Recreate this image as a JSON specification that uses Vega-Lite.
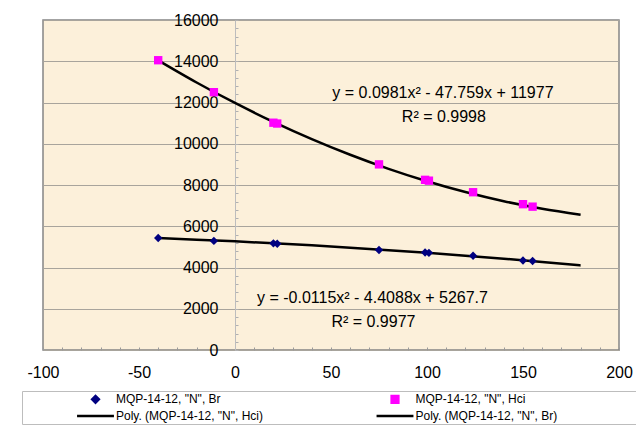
{
  "$schema": "https://vega.github.io/schema/vega-lite/v6.json",
  "width": 576,
  "height": 330,
  "autosize": {"type": "none"},
  "padding": {"left": 43, "top": 20, "right": 17, "bottom": 77},
  "background": "white",
  "config": {
    "view": {"fill": "#FCF0DA", "stroke": "#858585", "strokeWidth": 1.5},
    "font": "Liberation Sans"
  },
  "datasets": {
    "curves": [
      {"series": "Poly. (MQP-14-12, \"N\", Hci)", "x": -40, "y": 14044},
      {"series": "Poly. (MQP-14-12, \"N\", Hci)", "x": -20, "y": 12971},
      {"series": "Poly. (MQP-14-12, \"N\", Hci)", "x": 0, "y": 11977},
      {"series": "Poly. (MQP-14-12, \"N\", Hci)", "x": 20, "y": 11061},
      {"series": "Poly. (MQP-14-12, \"N\", Hci)", "x": 40, "y": 10224},
      {"series": "Poly. (MQP-14-12, \"N\", Hci)", "x": 60, "y": 9465},
      {"series": "Poly. (MQP-14-12, \"N\", Hci)", "x": 80, "y": 8784},
      {"series": "Poly. (MQP-14-12, \"N\", Hci)", "x": 100, "y": 8182},
      {"series": "Poly. (MQP-14-12, \"N\", Hci)", "x": 120, "y": 7659},
      {"series": "Poly. (MQP-14-12, \"N\", Hci)", "x": 140, "y": 7213},
      {"series": "Poly. (MQP-14-12, \"N\", Hci)", "x": 160, "y": 6847},
      {"series": "Poly. (MQP-14-12, \"N\", Hci)", "x": 180, "y": 6559},
      {"series": "Poly. (MQP-14-12, \"N\", Br)", "x": -40, "y": 5426},
      {"series": "Poly. (MQP-14-12, \"N\", Br)", "x": -20, "y": 5351},
      {"series": "Poly. (MQP-14-12, \"N\", Br)", "x": 0, "y": 5268},
      {"series": "Poly. (MQP-14-12, \"N\", Br)", "x": 20, "y": 5175},
      {"series": "Poly. (MQP-14-12, \"N\", Br)", "x": 40, "y": 5073},
      {"series": "Poly. (MQP-14-12, \"N\", Br)", "x": 60, "y": 4962},
      {"series": "Poly. (MQP-14-12, \"N\", Br)", "x": 80, "y": 4841},
      {"series": "Poly. (MQP-14-12, \"N\", Br)", "x": 100, "y": 4712},
      {"series": "Poly. (MQP-14-12, \"N\", Br)", "x": 120, "y": 4573},
      {"series": "Poly. (MQP-14-12, \"N\", Br)", "x": 140, "y": 4425},
      {"series": "Poly. (MQP-14-12, \"N\", Br)", "x": 160, "y": 4268},
      {"series": "Poly. (MQP-14-12, \"N\", Br)", "x": 180, "y": 4102}
    ],
    "points": [
      {"series": "MQP-14-12, \"N\", Hci", "x": -40, "y": 14050},
      {"series": "MQP-14-12, \"N\", Hci", "x": -11, "y": 12500},
      {"series": "MQP-14-12, \"N\", Hci", "x": 20, "y": 11020},
      {"series": "MQP-14-12, \"N\", Hci", "x": 22, "y": 10980},
      {"series": "MQP-14-12, \"N\", Hci", "x": 75, "y": 9000},
      {"series": "MQP-14-12, \"N\", Hci", "x": 99, "y": 8250},
      {"series": "MQP-14-12, \"N\", Hci", "x": 101, "y": 8210},
      {"series": "MQP-14-12, \"N\", Hci", "x": 124, "y": 7650},
      {"series": "MQP-14-12, \"N\", Hci", "x": 150, "y": 7070},
      {"series": "MQP-14-12, \"N\", Hci", "x": 155, "y": 6950},
      {"series": "MQP-14-12, \"N\", Br", "x": -40, "y": 5430},
      {"series": "MQP-14-12, \"N\", Br", "x": -11, "y": 5290},
      {"series": "MQP-14-12, \"N\", Br", "x": 20, "y": 5170},
      {"series": "MQP-14-12, \"N\", Br", "x": 22, "y": 5150},
      {"series": "MQP-14-12, \"N\", Br", "x": 75, "y": 4850},
      {"series": "MQP-14-12, \"N\", Br", "x": 99, "y": 4730},
      {"series": "MQP-14-12, \"N\", Br", "x": 101, "y": 4710},
      {"series": "MQP-14-12, \"N\", Br", "x": 124, "y": 4570},
      {"series": "MQP-14-12, \"N\", Br", "x": 150, "y": 4340},
      {"series": "MQP-14-12, \"N\", Br", "x": 155, "y": 4315}
    ],
    "labels": [
      {"x": 108.3, "y": 12470, "text": "y = 0.0981x² - 47.759x + 11977"},
      {"x": 108.8, "y": 11300, "text": "R² = 0.9998"},
      {"x": 71.6, "y": 2521, "text": "y = -0.0115x² - 4.4088x + 5267.7"},
      {"x": 72.1, "y": 1358, "text": "R² = 0.9977"}
    ]
  },
  "encoding": {
    "x": {
      "field": "x", "type": "quantitative",
      "scale": {"domain": [-100, 200], "nice": false, "zero": false},
      "axis": {
        "values": [-100,-90,-80,-70,-60,-50,-40,-30,-20,-10,0,10,20,30,40,50,60,70,80,90,100,110,120,130,140,150,160,170,180,190,200],
        "labelExpr": "datum.value % 50 === 0 ? '' + datum.value : ''",
        "title": null, "domain": false, "grid": false,
        "tickSize": -3, "tickColor": "#9A9A9A",
        "labelFontSize": 16, "labelPadding": 17, "labelFont": "Liberation Sans", "labelColor": "black",
        "labelFlush": false, "labelOverlap": false, "labelBound": false
      }
    },
    "y": {
      "field": "y", "type": "quantitative",
      "scale": {"domain": [0, 16000], "nice": false},
      "axis": {
        "values": [0,400,800,1200,1600,2000,2400,2800,3200,3600,4000,4400,4800,5200,5600,6000,6400,6800,7200,7600,8000,8400,8800,9200,9600,10000,10400,10800,11200,11600,12000,12400,12800,13200,13600,14000,14400,14800,15200,15600,16000],
        "labelExpr": "datum.value % 2000 === 0 ? '' + datum.value : ''",
        "title": null, "offset": -192,
        "domainColor": "#BDBDBD", "tickSize": -3, "tickColor": "#B0B0B0",
        "grid": true, "gridColor": "#A8A49C",
        "gridOpacity": {"condition": {"test": "datum.value % 2000 === 0", "value": 1}, "value": 0},
        "labelFontSize": 16, "labelPadding": 20, "labelFont": "Liberation Sans", "labelColor": "black",
        "labelOverlap": false, "labelFlush": false, "labelBound": false
      }
    }
  },
  "layer": [
    {
      "data": {"name": "curves"},
      "mark": {"type": "line", "interpolate": "monotone", "strokeWidth": 2.5},
      "encoding": {
        "color": {
          "field": "series", "type": "nominal",
          "scale": {
            "domain": ["MQP-14-12, \"N\", Br", "MQP-14-12, \"N\", Hci", "Poly. (MQP-14-12, \"N\", Hci)", "Poly. (MQP-14-12, \"N\", Br)"],
            "range": ["#000080", "#FF00FF", "#000000", "#000000"]
          },
          "legend": {
            "orient": "none", "legendX": -21, "legendY": 371, "columns": 2, "direction": "horizontal",
            "title": "MMMMMM", "titleOrient": "left", "titleOpacity": 0, "titleFontSize": 10.4, "titlePadding": 2,
            "padding": 2, "strokeColor": "#BDBDBD", "fillColor": "white",
            "labelFont": "Liberation Sans", "labelFontSize": 12, "labelColor": "black", "labelLimit": 1000,
            "labelExpr": "((indexof(datum.value, 'Hci') > 0) != (indexof(datum.value, 'Poly') === 0)) ? datum.label + '⠀⠀⠀⠀⠀⠀⠀⠀⠀' : datum.label",
            "symbolSize": 45, "symbolStrokeWidth": 2.5, "symbolOffset": 11.5, "labelOffset": 14.5, "columnPadding": 108.5, "rowPadding": 2,
            "symbolOpacity": 1
          }
        }
      }
    },
    {
      "data": {"name": "points"},
      "mark": {"type": "point", "filled": true, "size": 70, "opacity": 1},
      "encoding": {
        "color": {
          "field": "series", "type": "nominal",
          "scale": {
            "domain": ["MQP-14-12, \"N\", Br", "MQP-14-12, \"N\", Hci", "Poly. (MQP-14-12, \"N\", Hci)", "Poly. (MQP-14-12, \"N\", Br)"],
            "range": ["#000080", "#FF00FF", "#000000", "#000000"]
          }
        },
        "shape": {
          "field": "series", "type": "nominal",
          "scale": {
            "domain": ["MQP-14-12, \"N\", Br", "MQP-14-12, \"N\", Hci", "Poly. (MQP-14-12, \"N\", Hci)", "Poly. (MQP-14-12, \"N\", Br)"],
            "range": ["diamond", "square", "M-5.5,0H5.5", "M-5.5,0H5.5"]
          }
        }
      }
    },
    {
      "data": {"name": "labels"},
      "mark": {"type": "text", "fontSize": 16, "font": "Liberation Sans", "color": "black", "align": "center", "baseline": "middle"},
      "encoding": {"text": {"field": "text"}}
    }
  ]
}
